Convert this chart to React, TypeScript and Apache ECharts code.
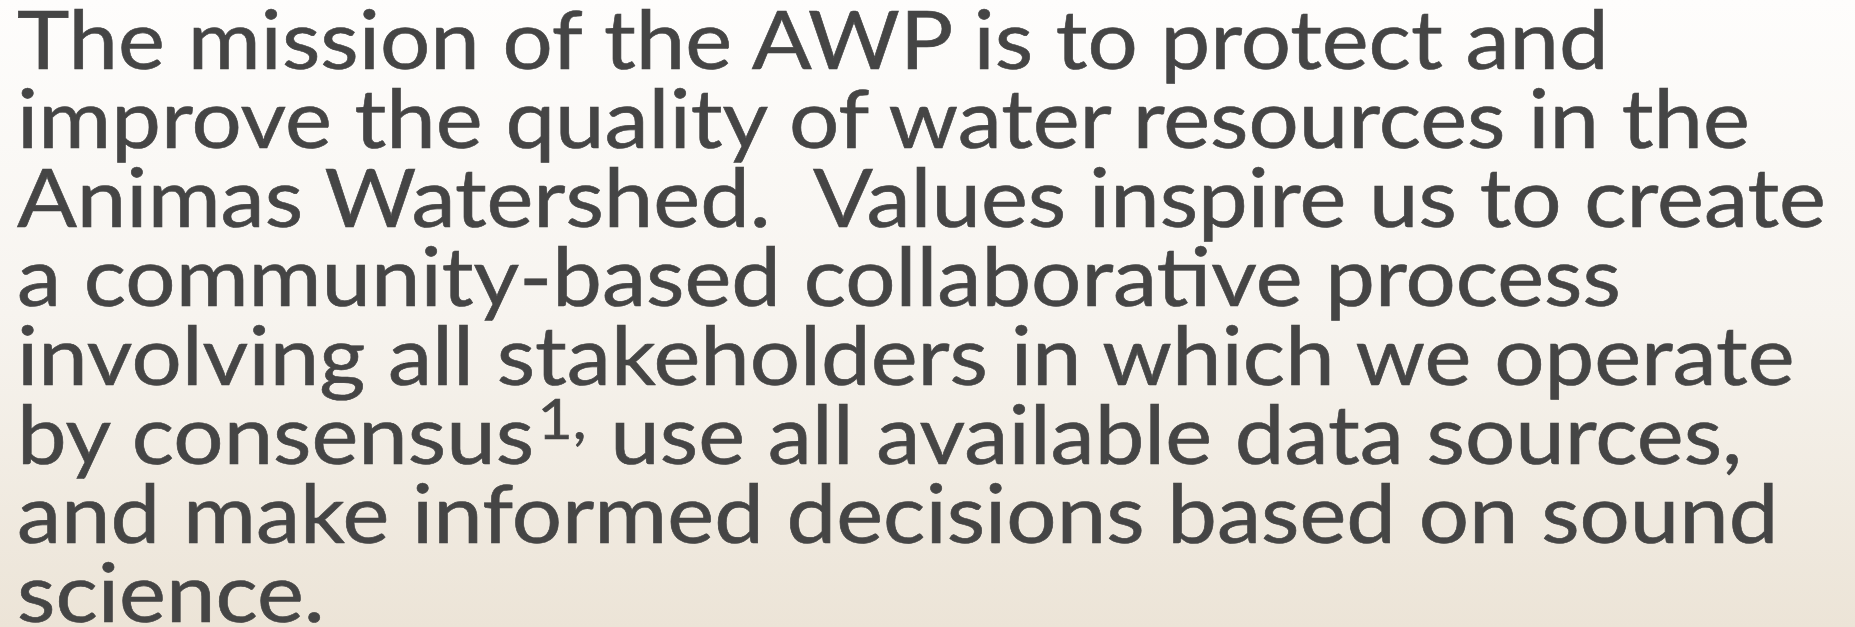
import React, { useEffect, useRef } from "react";
import * as echarts from "echarts";

type Segment = { text: string; sup?: boolean };

const lineSegments: Segment[][] = [
  [{ text: "The mission of the AWP is to protect and" }],
  [{ text: "improve the quality of water resources in the" }],
  [{ text: "Animas Watershed.  Values inspire us to create" }],
  [{ text: "a community-based collaborative process" }],
  [{ text: "involving all stakeholders in which we operate" }],
  [
    { text: "by consensus" },
    { text: "1,", sup: true },
    { text: " use all available data sources," },
  ],
  [{ text: "and make informed decisions based on sound" }],
  [{ text: "science." }],
];

const W = 1855;
const H = 627;
const FONT = "Lato, 'Open Sans', sans-serif";
const TEXT_COLOR = "#454545";

export default function App() {
  const ref = useRef<HTMLDivElement>(null);

  useEffect(() => {
    document.body.style.margin = "0";
    const chart = echarts.init(ref.current!, null, { renderer: "svg" });

    const canvas = document.createElement("canvas");
    const ctx = canvas.getContext("2d")!;
    const measure = (t: string, size: number) => {
      ctx.font = `${size}px ${FONT}`;
      return ctx.measureText(t).width;
    };

    const mainSize = 82;
    const supSize = 56;
    const supRaise = 26;
    const supGap = 1;
    const left = 17;
    const firstBaseline = 70;
    const pitch = 79;
    const midOffset = 0.4;
    const refLine = 2;
    const refRight = 1831;

    const segW = (s: Segment) =>
      measure(s.text, s.sup ? supSize : mainSize) + (s.sup ? supGap * 2 : 0);
    const lineWidth = (segs: Segment[]) => segs.reduce((a, s) => a + segW(s), 0);
    const scale = (refRight - left) / lineWidth(lineSegments[refLine]);

    const lineGroups = lineSegments.map((segs, i) => {
      const baseline = firstBaseline + pitch * i;
      let cx = 0;
      const children = segs.map((s) => {
        const size = s.sup ? supSize : mainSize;
        const el = {
          type: "text",
          x: cx + (s.sup ? supGap : 0),
          y: (s.sup ? -supRaise : 0) - midOffset * size,
          style: {
            text: s.text,
            fill: TEXT_COLOR,
            stroke: TEXT_COLOR,
            lineWidth: 0.6,
            fontSize: size,
            fontFamily: FONT,
            textAlign: "left",
            verticalAlign: "middle",
          },
        };
        cx += segW(s);
        return el;
      });
      return {
        type: "group",
        x: left,
        y: baseline,
        scaleX: scale,
        scaleY: 1,
        z: 10,
        children,
      };
    });

    chart.setOption({
      animation: false,
      graphic: [
        {
          type: "rect",
          x: 0,
          y: 0,
          z: 0,
          shape: { x: 0, y: 0, width: W, height: H },
          style: {
            fill: new echarts.graphic.LinearGradient(0, 0, 0, 1, [
              { offset: 0, color: "#fefdfc" },
              { offset: 0.5, color: "#f7f4ef" },
              { offset: 1, color: "#ece4d7" },
            ]),
          },
        },
        ...lineGroups,
      ],
    });

    return () => chart.dispose();
  }, []);

  return <div ref={ref} style={{ width: W, height: H }} />;
}
